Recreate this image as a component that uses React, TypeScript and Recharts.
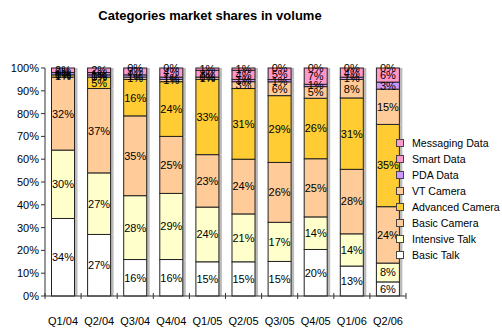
import React from 'react';
import { BarChart, Bar, XAxis, YAxis, LabelList } from 'recharts';

const quarters = ['Q1/04', 'Q2/04', 'Q3/04', 'Q4/04', 'Q1/05', 'Q2/05', 'Q3/05', 'Q4/05', 'Q1/06', 'Q2/06'];
const basicTalk = [34, 27, 16, 16, 15, 15, 15, 20, 13, 6];
const intensiveTalk = [30, 27, 28, 29, 24, 21, 17, 14, 14, 8];
const basicCamera = [32, 37, 35, 25, 23, 24, 26, 25, 28, 24];
const advancedCamera = [1, 5, 16, 24, 33, 31, 29, 26, 31, 35];
const vtCamera = [0, 0, 1, 1, 1, 3, 6, 5, 8, 15];
const pdaData = [1, 1, 1, 1, 0, 1, 1, 1, 1, 3];
const smartData = [0, 1, 3, 4, 3, 4, 5, 7, 4, 6];
const messagingData = [2, 2, 0, 0, 1, 1, 0, 0, 0, 0];
const yTicks = [0, 0.1, 0.2, 0.3, 0.4, 0.5, 0.6, 0.7, 0.8, 0.9, 1];

const series = [
  { key: 'bt', name: 'Basic Talk', values: basicTalk, color: '#FFFFFF' },
  { key: 'it', name: 'Intensive Talk', values: intensiveTalk, color: '#FFFFCC' },
  { key: 'bc', name: 'Basic Camera', values: basicCamera, color: '#FFCC99' },
  { key: 'ac', name: 'Advanced Camera', values: advancedCamera, color: '#FFCC33' },
  { key: 'vt', name: 'VT Camera', values: vtCamera, color: '#FFCC99' },
  { key: 'pda', name: 'PDA Data', values: pdaData, color: '#CC99FF' },
  { key: 'sd', name: 'Smart Data', values: smartData, color: '#FF99CC' },
  { key: 'md', name: 'Messaging Data', values: messagingData, color: '#FF99CC' },
];

const data = quarters.map((q, i) => {
  const row: Record<string, any> = { q };
  series.forEach((s) => { row[s.key] = s.values[i]; });
  return row;
});

const FONT = '"Liberation Sans", Arial, Helvetica, sans-serif';

const BarShape = (props: any) => {
  const { x, y, width, height, fill } = props;
  if (!height || height <= 0) return null;
  return (
    <g>
      <rect x={x + width} y={y} width={3} height={height} fill="#BBBBBB" />
      <rect x={x} y={y} width={width} height={height} fill={fill} stroke="#222" strokeWidth={1} />
    </g>
  );
};

const XTick = (props: any) => {
  const { x, y, payload, index, visibleTicksCount, width } = props;
  const band = width / visibleTicksCount;
  return (
    <g>
      <line x1={x - band / 2} x2={x - band / 2} y1={y - 3} y2={y + 3} stroke="#333" />
      {index === visibleTicksCount - 1 && (
        <line x1={x + band / 2} x2={x + band / 2} y1={y - 3} y2={y + 3} stroke="#333" />
      )}
      <text x={x} y={y + 29} textAnchor="middle" fontSize={11} fontFamily={FONT} fill="#000">
        {payload.value}
      </text>
    </g>
  );
};

const LegendBox = () => {
  const items = [...series].reverse();
  return (
    <div style={{ position: 'absolute', left: 396, top: 135, fontFamily: FONT, fontSize: 10.6, color: '#000', whiteSpace: 'nowrap' }}>
      {items.map((s) => (
        <div key={s.key} style={{ display: 'flex', alignItems: 'center', height: 16 }}>
          <span style={{ display: 'inline-block', width: 6, height: 6, background: s.color, border: '1px solid #444', marginRight: 8 }} />
          <span>{s.name}</span>
        </div>
      ))}
    </div>
  );
};

export default function App() {
  return (
    <div style={{ position: 'absolute', left: 0, top: 0, width: 502, height: 328, background: '#fff' }}>
      <div style={{ position: 'absolute', left: 0, width: 420, top: 8, textAlign: 'center', fontFamily: FONT, fontWeight: 'bold', fontSize: 13 }}>
        Categories market shares in volume
      </div>
      <BarChart
        width={502}
        height={328}
        data={data}
        stackOffset="expand"
        barCategoryGap="18%"
        margin={{ top: 68, right: 96, bottom: 0, left: 0 }}
      >
        <XAxis
          dataKey="q"
          axisLine={{ stroke: '#333' }}
          tickLine={false}
          tickSize={0}
          tickMargin={0}
          tick={<XTick />}
          interval={0}
          height={32}
        />
        <YAxis
          width={45}
          domain={[0, 1]}
          ticks={yTicks}
          tickFormatter={(v: number) => `${Math.round(v * 100)}%`}
          axisLine={{ stroke: '#333' }}
          tickLine={{ stroke: '#333' }}
          tickSize={4}
          tick={{ fontSize: 11, fontFamily: FONT, fill: '#000' }}
        />
        {series.map((s) => (
          <Bar key={s.key} dataKey={s.key} name={s.name} stackId="a" fill={s.color} shape={<BarShape />} isAnimationActive={false}>
            <LabelList
              dataKey={s.key}
              position="center"
              formatter={(v: any) => `${v}%`}
              style={{ fontSize: 11, fontFamily: FONT, fill: '#000' }}
            />
          </Bar>
        ))}
      </BarChart>
      <LegendBox />
    </div>
  );
}
